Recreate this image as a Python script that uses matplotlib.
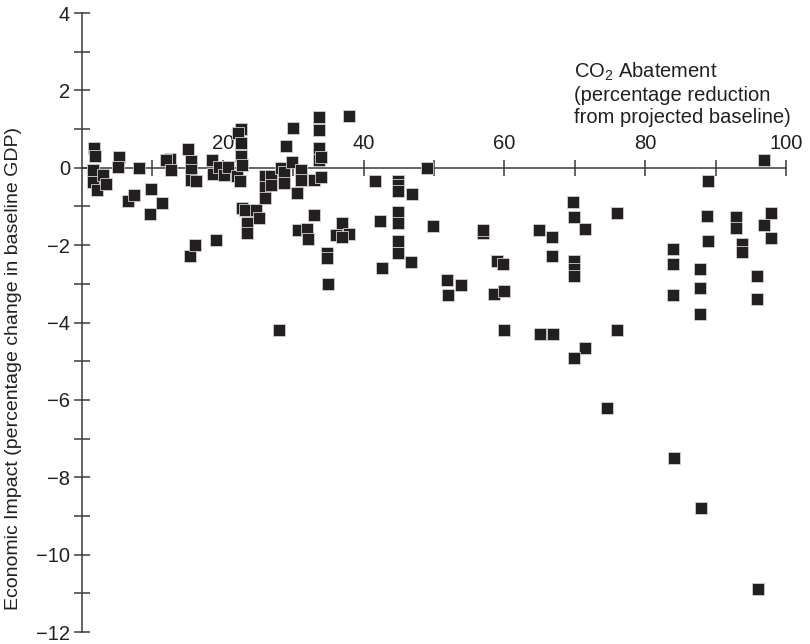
import numpy as np
import matplotlib.pyplot as plt
from matplotlib.ticker import FixedLocator

plt.rcParams['font.family'] = ['Liberation Sans', 'DejaVu Sans']
plt.rcParams['mathtext.fontset'] = 'custom'
plt.rcParams['mathtext.rm'] = 'Liberation Sans'
plt.rcParams['mathtext.it'] = 'Liberation Sans:italic'

# CO2 abatement (%) vs. GDP impact (%) for each model run
abatement = [
    1.75, 1.85, 1.5, 1.5, 2.1, 3.0, 3.4, 5.2, 5.1, 8.05, 6.6, 7.4, 9.75, 9.6,
    11.4, 12.5, 12.0, 12.6, 15.0, 15.5, 15.5, 15.5, 16.2, 15.4, 16.0, 19.0,
    18.5, 18.6, 19.4, 20.2, 20.8, 22.0, 22.4, 22.6, 22.2, 22.6, 22.6, 22.7,
    22.7, 23.5, 23.5, 23.2, 24.7, 25.2, 26.0, 26.0, 26.0, 26.8, 26.8, 28.3,
    28.7, 28.7, 29.0, 30.0, 29.9, 30.5, 31.1, 31.1, 30.7, 32.0, 32.1, 33.0,
    33.0, 33.6, 33.6, 33.6, 33.6, 33.9, 34.0, 34.8, 34.8, 36.1, 36.9, 38.0,
    37.0, 38.0, 34.9, 28.0,
    41.6, 44.9, 44.9, 44.9, 46.9, 44.9, 44.9, 42.3, 44.9, 44.9, 46.7, 42.6,
    49.0, 49.9, 51.8, 53.9, 52.0, 57.0, 57.0, 58.9, 59.8, 58.5, 59.9, 60.0,
    64.9, 66.8, 66.8, 65.0, 66.9, 69.8, 69.9, 71.4, 69.9, 69.9, 69.9, 71.4,
    69.9, 76.0, 76.0, 74.6,
    96.9, 88.9, 88.8, 88.9, 92.9, 92.9, 93.8, 93.8, 97.9, 96.9, 97.9, 83.9,
    83.9, 83.9, 87.8, 87.8, 87.8, 95.9, 95.9, 84.1, 87.9, 96.1,
]
impact = [
    0.51, 0.31, -0.07, -0.38, -0.57, -0.2, -0.41, 0.28, 0.02, 0.0, -0.87, -0.7,
    -0.55, -1.2, -0.9, 0.22, 0.19, -0.07, 0.48, 0.18, -0.05, -0.31, -0.33,
    -2.29, -1.99, -1.87, 0.2, -0.16, 0.02, -0.18, 0.02, -0.22, -0.35, 1.0,
    0.91, 0.64, 0.31, 0.08, -1.04, -1.44, -1.68, -1.1, -1.1, -1.3, -0.22,
    -0.5, -0.78, -0.22, -0.44, -0.01, -0.1, -0.4, 0.55, 1.02, 0.16, -0.65,
    -0.05, -0.31, -1.6, -1.58, -1.84, -1.21, -0.31, 1.32, 0.98, 0.5, 0.2,
    0.28, -0.24, -2.2, -2.32, -1.75, -1.43, -1.7, -1.79, 1.34, -3.0, -4.2,
    -0.33, -0.33, -0.45, -0.61, -0.67, -1.14, -1.43, -1.38, -1.9, -2.2, -2.43,
    -2.6, 0.0, -1.5, -2.89, -3.04, -3.3, -1.68, -1.62, -2.4, -2.5, -3.27,
    -3.19, -4.19, -1.61, -1.79, -2.29, -4.3, -4.3, -0.89, -1.27, -1.57, -2.41,
    -2.61, -2.8, -4.65, -4.91, -1.17, -4.2, -6.22,
    0.19, -0.35, -1.25, -1.9, -1.28, -1.56, -1.97, -2.18, -1.18, -1.49, -1.82,
    -2.1, -2.5, -3.3, -2.61, -3.12, -3.77, -2.8, -3.4, -7.5, -8.79, -10.9,
]

x_labelled = [20, 40, 60, 80, 100]
x_minor = [10, 30, 50, 70, 90]
y_labelled = list(range(-12, 5, 2))
y_minor = list(range(-11, 4, 2))

fig = plt.figure(figsize=(8.1, 6.44), dpi=100)
ax = fig.add_axes([0.1012, 0.0186, 0.8691, 0.9612])

ax.scatter(abatement, impact, marker='s', s=72, color='#231f20',
           edgecolors='#cfcfcf', linewidths=0.6, zorder=3)

ax.set_xlim(0, 100)
ax.set_ylim(-12, 4)

axis_col = '#3a3a3a'
for side in ['left', 'bottom']:
    ax.spines[side].set_position(('data', 0))
    ax.spines[side].set_color(axis_col)
    ax.spines[side].set_linewidth(1.1)
ax.spines['top'].set_position(('data', 0))
ax.spines['top'].set_visible(False)
ax.spines['right'].set_visible(False)

# x ticks sit on the zero line with their labels above it
ax.xaxis.set_ticks_position('top')
ax.xaxis.set_major_locator(FixedLocator(x_labelled))
ax.xaxis.set_minor_locator(FixedLocator(x_minor))
ax.yaxis.set_major_locator(FixedLocator(y_labelled))
ax.yaxis.set_minor_locator(FixedLocator(y_minor))

ax.tick_params(axis='both', which='both', direction='inout', length=11,
               width=1.1, color=axis_col, labelsize=14.5, labelcolor='#231f20')
ax.tick_params(axis='x', which='both', pad=5)
ax.tick_params(axis='y', which='both', pad=3)

ax.set_ylabel('Economic Impact (percentage change in baseline GDP)',
              fontsize=14, color='#231f20')
ax.yaxis.set_label_coords(-0.085, 0.425)

ax.text(69.9, 1.9,
        'CO$_2$ Abatement\n(percentage reduction\nfrom projected baseline)',
        ha='left', va='center', fontsize=14.5, color='#231f20',
        linespacing=1.2)

fig.savefig('out.png', dpi=100)
